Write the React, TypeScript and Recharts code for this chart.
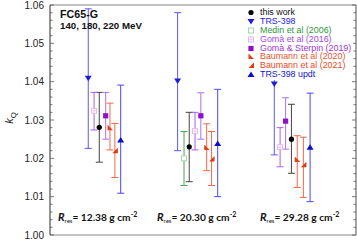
import React from 'react'
import {
	ComposedChart, Scatter, ErrorBar, XAxis, YAxis, ReferenceArea, Legend
} from 'recharts'

document.body.style.margin = '0'

// Rres groups (labels under the points)
const rresLabels = ['12.38', '20.30', '29.28']

// y-axis ticks
const majorTicks = ['1.00', '1.01', '1.02', '1.03', '1.04', '1.05', '1.06']
const allTicks = Array.from({ length: 31 }, (_, i) => Number((1 + i * 0.002).toFixed(3)))

// horizontal position of each point inside the frame (0..100)
const thisWorkX = [16.1, 45.5, 78.9]
const thisWorkY = [1.0281, 1.023, 1.025]
const thisWorkLo = [1.019, 1.0139, 1.0161]
const thisWorkHi = [1.0372, 1.032, 1.0341]

const trs398X = [12.5, 41.7, 73.3]
const trs398Y = [1.0409, 1.0402, 1.0394]
const trs398Lo = [1.0226, 1.022, 1.0209]
const trs398Hi = [1.059, 1.058, 1.058]

const medinX = [43.8]
const medinY = [1.02]
const medinLo = [1.0129]
const medinHi = [1.027]

const goma2016X = [14.4, 47.4, 75.2]
const goma2016Y = [1.0324, 1.0271, 1.0229]
const goma2016Lo = [1.0274, 1.0222, 1.0178]
const goma2016Hi = [1.0372, 1.032, 1.028]

const gomaSterpinX = [18.2, 49.3, 77.0]
const gomaSterpinY = [1.0311, 1.0311, 1.0297]
const gomaSterpinLo = [1.025, 1.025, 1.0224]
const gomaSterpinHi = [1.0372, 1.0371, 1.0358]

const baumann2020X = [19.6, 51.2, 80.8]
const baumann2020Y = [1.028, 1.0228, 1.0197]
const baumann2020Lo = [1.0222, 1.0168, 1.0124]
const baumann2020Hi = [1.0344, 1.029, 1.0259]

const baumann2021X = [21.2, 52.8, 82.8]
const baumann2021Y = [1.022, 1.0198, 1.0183]
const baumann2021Lo = [1.015, 1.0129, 1.0098]
const baumann2021Hi = [1.0291, 1.027, 1.0255]

const trsUpdtX = [23.1, 54.8, 85.0]
const trsUpdtY = [1.0248, 1.0239, 1.0229]
const trsUpdtLo = [1.0109, 1.01, 1.0087]
const trsUpdtHi = [1.0391, 1.038, 1.037]

const build = (xs: number[], ys: number[], lo: number[], hi: number[]) =>
	xs.map((x, i) => ({ x, y: ys[i], err: [ys[i] - lo[i], hi[i] - ys[i]] }))

type Mark = 'circle' | 'down' | 'open' | 'grid' | 'square' | 'tri20' | 'tri21' | 'up'

const drawMark = (mark: Mark, cx: number, cy: number, color: string) => {
	switch (mark) {
		case 'circle':
			return <circle cx={cx} cy={cy} r={2.6} fill={color} />
		case 'down':
			return <path d={`M${cx - 3.5},${cy - 2.5}L${cx + 3.5},${cy - 2.5}L${cx},${cy + 3}Z`} fill={color} />
		case 'up':
			return <path d={`M${cx - 3.5},${cy + 2.5}L${cx + 3.5},${cy + 2.5}L${cx},${cy - 3}Z`} fill={color} />
		case 'open':
			return <rect x={cx - 2.5} y={cy - 2.5} width={5} height={5} fill="#fff" stroke={color} strokeWidth={0.9} />
		case 'grid':
			return (
				<g>
					<rect x={cx - 2.5} y={cy - 2.5} width={5} height={5} fill="#fff" stroke={color} strokeWidth={0.9} />
					<path d={`M${cx - 2.5},${cy}H${cx + 2.5}M${cx},${cy - 2.5}V${cy + 2.5}`} stroke={color} strokeWidth={0.6} />
				</g>
			)
		case 'square':
			return <rect x={cx - 2.6} y={cy - 2.6} width={5.2} height={5.2} fill={color} />
		case 'tri20':
			return <path d={`M${cx - 2.5},${cy - 3}L${cx - 2.5},${cy + 2.5}L${cx + 3},${cy + 2.5}Z`} fill={color} />
		case 'tri21':
			return <path d={`M${cx + 3},${cy - 3}L${cx + 3},${cy + 2.5}L${cx - 2.5},${cy + 2.5}Z`} fill={color} />
	}
}

const series = [
	{ name: 'this work', data: build(thisWorkX, thisWorkY, thisWorkLo, thisWorkHi), mark: 'circle' as Mark, color: '#000', text: '#111', bar: '#444' },
	{ name: 'TRS-398', data: build(trs398X, trs398Y, trs398Lo, trs398Hi), mark: 'down' as Mark, color: '#1c1ce0', text: '#2424e0', bar: '#5a5af0' },
	{ name: 'Medin et al (2006)', data: build(medinX, medinY, medinLo, medinHi), mark: 'open' as Mark, color: '#9ed09e', text: '#2e9a3a', bar: '#4aa84a' },
	{ name: 'Gomà et al (2016)', data: build(goma2016X, goma2016Y, goma2016Lo, goma2016Hi), mark: 'grid' as Mark, color: '#e2b4ee', text: '#a04ae6', bar: '#a95ef0' },
	{ name: 'Gomà & Sterpin (2019)', data: build(gomaSterpinX, gomaSterpinY, gomaSterpinLo, gomaSterpinHi), mark: 'square' as Mark, color: '#8e10cc', text: '#9b36d6', bar: '#b070e6' },
	{ name: 'Baumann et al (2020)', data: build(baumann2020X, baumann2020Y, baumann2020Lo, baumann2020Hi), mark: 'tri20' as Mark, color: '#e2401a', text: '#e8552e', bar: '#ee6a48' },
	{ name: 'Baumann et al (2021)', data: build(baumann2021X, baumann2021Y, baumann2021Lo, baumann2021Hi), mark: 'tri21' as Mark, color: '#e23a10', text: '#e64a22', bar: '#ee6a48' },
	{ name: 'TRS-398 updt', data: build(trsUpdtX, trsUpdtY, trsUpdtLo, trsUpdtHi), mark: 'up' as Mark, color: '#0c0cd0', text: '#1414d0', bar: '#4848ee' },
]

const font = '"Liberation Sans", Arial, sans-serif'

const LeftTick = (props: any) => {
	const { x, y, payload } = props
	const v = Number(payload.value)
	const label = majorTicks.find(t => Math.abs(Number(t) - v) < 1e-6)
	const ax = x + 6
	return (
		<g>
			<line x1={ax} x2={ax + (label ? 4 : 2.5)} y1={y} y2={y} stroke="#555" strokeWidth={0.8} />
			{label && (
				<text x={x} y={y} dy={3.5} textAnchor="end" fontSize={10} fontFamily={font} fill="#222">
					{label}
				</text>
			)}
		</g>
	)
}

const RightTick = (props: any) => {
	const { x, y, payload } = props
	const v = Number(payload.value)
	const major = majorTicks.some(t => Math.abs(Number(t) - v) < 1e-6)
	const ax = x - 6
	return <line x1={ax} x2={ax - (major ? 4 : 2.5)} y1={y} y2={y} stroke="#555" strokeWidth={0.8} />
}

const LegendBox = () => (
	<div style={{ background: '#fff', padding: '1px 2px 1px 2px', fontFamily: font, fontSize: 8.9, lineHeight: '8.9px' }}>
		{series.map(s => (
			<div key={s.name} style={{ display: 'flex', alignItems: 'center', height: 8.9 }}>
				<svg width={10} height={8.9} style={{ marginRight: 4, flexShrink: 0 }}>
					{drawMark(s.mark, 5, 4.5, s.color)}
				</svg>
				<span style={{ color: s.text, whiteSpace: 'nowrap' }}>{s.name}</span>
			</div>
		))}
	</div>
)

const rresX = [58, 157, 260]

export default function App() {
	return (
		<div style={{ position: 'relative', width: 357, height: 240, background: '#fff' }}>
			<ComposedChart width={357} height={240} margin={{ top: 5, right: 0, bottom: 5, left: 0 }}>
				<XAxis type="number" dataKey="x" domain={[0, 100]} hide />
				<YAxis
					yAxisId="l"
					type="number"
					dataKey="y"
					domain={[1, 1.06]}
					ticks={allTicks}
					interval={0}
					width={50}
					tickSize={0}
					tickMargin={6}
					tickLine={false}
					axisLine={{ stroke: '#666' }}
					tick={<LeftTick />}
					allowDataOverflow
				/>
				<YAxis
					yAxisId="r"
					orientation="right"
					type="number"
					domain={[1, 1.06]}
					ticks={allTicks}
					interval={0}
					width={1}
					tickSize={0}
					tickMargin={6}
					tickLine={false}
					axisLine={{ stroke: '#888' }}
					tick={<RightTick />}
					allowDataOverflow
				/>
				<ReferenceArea yAxisId="l" x1={0} x2={100} y1={1} y2={1.06} fill="none" stroke="#888" strokeWidth={1} />
				{series.map(s => (
					<Scatter
						key={s.name}
						yAxisId="l"
						name={s.name}
						data={s.data}
						dataKey="y"
						isAnimationActive={false}
						shape={(p: any) => drawMark(s.mark, p.cx, p.cy, s.color)}
					>
						<ErrorBar dataKey="err" direction="y" width={3.5} stroke={s.bar} strokeWidth={1} isAnimationActive={false} />
					</Scatter>
				))}
				<Legend
					layout="vertical"
					align="center"
					verticalAlign="middle"
					content={<LegendBox />}
					wrapperStyle={{ position: 'absolute', top: 7, left: 244, width: 'auto' }}
				/>
			</ComposedChart>
			<svg width={357} height={240} style={{ position: 'absolute', left: 0, top: 0, pointerEvents: 'none' }}>
				<text x={60} y={17.5} fontFamily={font} fontWeight="bold" fontSize={10.7} fill="#111">FC65-G</text>
				<text x={60} y={29} fontFamily={font} fontWeight="bold" fontSize={9.7} fill="#111">140, 180, 220 MeV</text>
				<text transform="translate(13,118) rotate(-90)" fontFamily={font} fontSize={11} fill="#222" textAnchor="middle">
					<tspan fontStyle="italic">k</tspan>
					<tspan fontSize={8} dy={2.5}>Q</tspan>
				</text>
				{rresLabels.map((v, i) => (
					<text key={v} x={rresX[i]} y={221} fontFamily="Lato, sans-serif" fontWeight="bold" fontSize={10.2} fill="#111">
						<tspan fontStyle="italic" fontSize={11}>R</tspan>
						<tspan fontSize={6} fontWeight="normal" dy={2}>res</tspan>
						<tspan dy={-2}>{`= ${v} g cm`}</tspan>
						<tspan fontSize={7} dy={-4}>-2</tspan>
					</text>
				))}
			</svg>
		</div>
	)
}
